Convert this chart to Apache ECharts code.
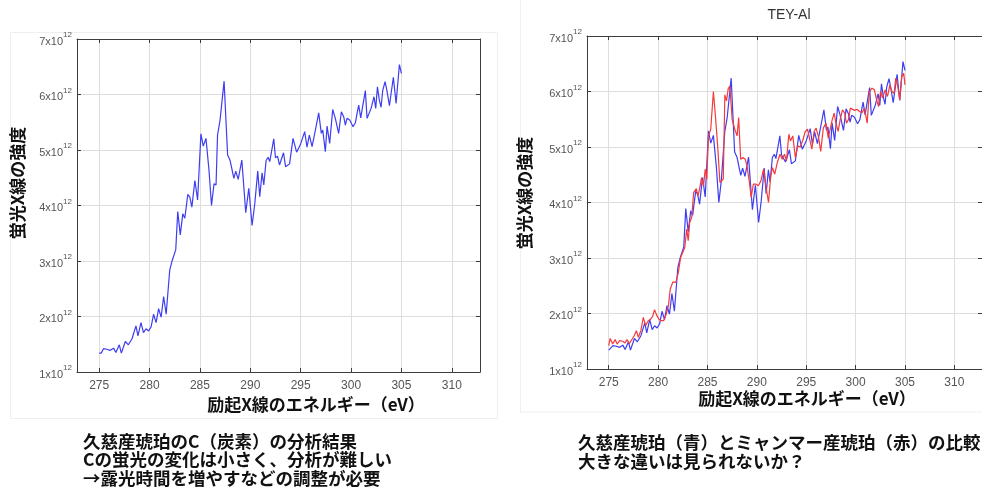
<!DOCTYPE html>
<html><head><meta charset="utf-8">
<script src="https://cdn.jsdelivr.net/npm/echarts@6/dist/echarts.min.js"></script>
<style>html,body{margin:0;padding:0;background:#fff}#c{width:982px;height:499px}</style>
</head><body><div id="c"></div>
<script>
// ---- data (intensity in units of 10^12) ----
const yExponent = 12;
const yTickValues = [1, 2, 3, 4, 5, 6, 7];
const xTickValues = [275, 280, 285, 290, 295, 300, 305, 310];

const kujiEnergy = [275.0,275.2,275.43,275.76,276.1,276.43,276.66,277.0,277.2,277.6,277.9,278.26,278.45,278.65,278.85,279.15,279.4,279.65,279.9,280.15,280.4,280.65,280.9,281.15,281.4,281.65,282.0,282.25,282.6,282.8,283.05,283.3,283.5,283.8,284.0,284.2,284.35,284.5,284.77,285.1,285.33,285.6,285.9,286.15,286.4,286.6,286.75,287.0,287.4,287.75,288.0,288.37,288.56,288.8,288.96,289.16,289.55,289.85,290.18,290.45,290.74,290.94,291.17,291.34,291.57,291.77,291.93,292.33,292.5,292.7,292.9,293.3,293.5,293.9,294.24,294.4,294.6,295.0,295.4,295.63,295.86,296.13,296.46,296.79,297.05,297.19,297.45,297.62,297.88,298.18,298.44,298.77,299.04,299.27,299.44,299.6,299.87,300.03,300.2,300.43,300.66,300.76,300.96,301.13,301.42,301.59,301.75,301.99,302.28,302.45,302.62,302.81,302.98,303.15,303.38,303.58,303.81,304.0,304.2,304.47,304.8,305.0];
const kujiIntensity = [1.34,1.34,1.42,1.41,1.39,1.43,1.35,1.49,1.34,1.55,1.49,1.60,1.58,1.83,1.65,1.89,1.71,1.78,1.74,1.81,2.04,1.89,2.14,1.99,2.36,2.04,2.83,3.01,3.20,3.89,3.47,3.85,3.77,4.20,4.15,3.97,3.95,4.45,4.10,5.29,5.07,5.21,4.64,4.00,4.39,4.37,5.27,5.54,6.24,4.91,4.81,4.49,4.62,4.47,4.46,4.82,3.87,4.31,3.64,4.04,4.62,4.16,4.59,4.37,4.81,4.87,4.79,5.20,4.86,4.89,4.73,4.95,4.70,4.75,5.21,5.23,4.96,5.11,5.33,5.05,5.27,5.06,5.36,5.67,5.30,5.36,4.97,5.43,5.12,5.73,5.57,5.30,5.69,5.60,5.45,5.57,5.54,5.56,5.42,5.49,5.72,5.81,5.58,5.56,6.07,5.57,5.57,5.75,5.96,5.75,6.14,5.90,5.77,6.08,6.23,6.05,5.80,6.05,6.31,5.84,6.54,6.38];

const myanmarEnergy = [275.0,275.15,275.4,275.65,275.85,276.1,276.4,276.65,276.85,277.1,277.3,277.58,277.8,278.0,278.25,278.5,278.74,278.97,279.24,279.45,279.64,279.83,280.07,280.3,280.56,280.83,281.06,281.23,281.5,281.8,282.05,282.28,282.48,282.7,282.9,283.05,283.2,283.4,283.6,283.87,284.04,284.2,284.4,284.6,284.77,284.93,285.1,285.33,285.6,285.83,286.03,286.26,286.43,286.6,286.76,286.93,287.1,287.26,287.5,287.76,288.0,288.16,288.36,288.6,288.82,289.0,289.25,289.42,289.65,289.92,290.15,290.41,290.68,290.91,291.18,291.41,291.58,291.81,292.07,292.34,292.57,292.8,293.0,293.24,293.4,293.64,293.9,294.14,294.4,294.67,294.9,295.13,295.33,295.57,295.8,296.0,296.23,296.47,296.73,297.0,297.23,297.4,297.63,297.83,298.0,298.23,298.47,298.67,298.9,299.07,299.27,299.47,299.67,299.9,300.13,300.4,300.67,300.9,301.17,301.4,301.67,301.9,302.13,302.33,302.53,302.73,303.0,303.23,303.47,303.67,303.9,304.07,304.27,304.47,304.67,304.87,305.0];
const myanmarIntensity = [1.42,1.55,1.45,1.53,1.45,1.51,1.50,1.47,1.53,1.46,1.44,1.60,1.69,1.57,1.69,1.93,1.78,1.86,1.90,1.95,2.07,1.98,1.90,1.87,1.87,1.99,2.16,2.44,2.57,2.56,2.74,3.01,2.99,3.19,3.52,3.31,3.64,3.73,4.18,4.25,4.12,4.24,4.45,4.30,4.60,4.42,5.20,5.32,6.00,5.50,5.02,4.36,4.39,4.42,5.94,5.83,6.05,6.10,5.50,5.32,5.20,5.53,4.78,4.81,4.78,4.66,4.36,4.09,4.33,4.33,4.30,4.39,4.60,4.30,4.00,4.48,4.63,4.51,4.72,4.87,4.78,4.87,4.75,5.23,5.11,5.20,4.81,5.02,5.00,5.13,5.28,5.32,5.31,4.96,5.28,5.34,5.19,4.92,5.34,5.43,5.16,5.19,5.49,5.61,5.44,5.28,5.52,5.67,5.61,5.43,5.49,5.70,5.67,5.66,5.68,5.64,5.62,5.70,5.43,6.00,6.06,6.03,5.85,5.73,6.00,5.88,6.03,5.91,6.12,6.00,5.97,6.24,6.09,5.85,6.27,6.33,6.12];

const yTitle = '蛍光X線の強度';
const xTitle = '励起X線のエネルギー（eV）';
const rightTitle = 'TEY-Al';
const leftCaption = ['久慈産琥珀のC（炭素）の分析結果', 'Cの蛍光の変化は小さく、分析が難しい', '→露光時間を増やすなどの調整が必要'];
const rightCaption = ['久慈産琥珀（青）とミャンマー産琥珀（赤）の比較', '大きな違いは見られないか？'];

// ---- chart ----
const LAT = '"Liberation Sans", Arial, sans-serif';
const JP = '"Noto Sans CJK JP", sans-serif';
const FRAME = '#3c3c3c';
const GRIDC = '#dddddd';
const X_MIN = 272.8, X_MAX = 312.8;

function zip(a, b) { return a.map((v, i) => [v, b[i]]); }

function xAx(gi, pos, main) {
  return {
    type: 'value', gridIndex: gi, position: pos, min: X_MIN, max: X_MAX,
    minInterval: 5, maxInterval: 5,
    axisLine: { show: true, onZero: false, lineStyle: { color: FRAME, width: 1 } },
    axisTick: { show: true, inside: true, length: 4, lineStyle: { color: FRAME } },
    axisLabel: {
      show: main, color: '#555', fontSize: 12, fontFamily: LAT, margin: 8,
      showMinLabel: false, showMaxLabel: false,
      formatter: v => xTickValues.includes(Math.round(v)) && Math.abs(v - Math.round(v)) < 1e-6 ? String(Math.round(v)) : ''
    },
    splitLine: { show: main, lineStyle: { color: GRIDC, width: 1 } }
  };
}
function yAx(gi, pos, main) {
  return {
    type: 'value', gridIndex: gi, position: pos, min: yTickValues[0], max: yTickValues[yTickValues.length - 1], interval: 1,
    axisLine: { show: true, onZero: false, lineStyle: { color: FRAME, width: 1 } },
    axisTick: { show: true, inside: true, length: 4, lineStyle: { color: FRAME } },
    axisLabel: {
      show: main, margin: 5,
      formatter: v => '{m|' + v + 'x10}{e|' + yExponent + '}',
      rich: {
        m: { fontSize: 11, color: '#555', fontFamily: LAT, lineHeight: 16, verticalAlign: 'bottom' },
        e: { fontSize: 8, color: '#555', fontFamily: LAT, lineHeight: 16, verticalAlign: 'top' }
      }
    },
    splitLine: { show: main, lineStyle: { color: GRIDC, width: 1 } }
  };
}

function txt(x, y, text, size, rot) {
  return {
    type: 'text', x: x, y: y, rotation: rot || 0, silent: true,
    style: { text: text, font: 'bold ' + size + 'px ' + JP, fill: '#111', align: 'center', verticalAlign: 'middle' }
  };
}

const chart = echarts.init(document.getElementById('c'), null, { renderer: 'canvas' });
chart.setOption({
  animation: false,
  backgroundColor: '#fff',
  grid: [
    { left: 77, top: 39, width: 403, height: 333 },
    { left: 587, top: 36, width: 403, height: 333 }
  ],
  xAxis: [xAx(0, 'bottom', true), xAx(0, 'top', false), xAx(1, 'bottom', true), xAx(1, 'top', false)],
  yAxis: [yAx(0, 'left', true), yAx(0, 'right', false), yAx(1, 'left', true), yAx(1, 'right', false)],
  series: [
    { type: 'line', xAxisIndex: 0, yAxisIndex: 0, data: zip(kujiEnergy, kujiIntensity), showSymbol: false, symbol: 'none',
      lineStyle: { color: '#3d3df2', width: 1.2 }, itemStyle: { color: '#3d3df2' } },
    { type: 'line', xAxisIndex: 2, yAxisIndex: 2, data: zip(kujiEnergy, kujiIntensity), showSymbol: false, symbol: 'none',
      lineStyle: { color: '#3d3df2', width: 1.2 }, itemStyle: { color: '#3d3df2' } },
    { type: 'line', xAxisIndex: 2, yAxisIndex: 2, data: zip(myanmarEnergy, myanmarIntensity), showSymbol: false, symbol: 'none',
      lineStyle: { color: '#f53a3a', width: 1.2 }, itemStyle: { color: '#f53a3a' } }
  ],
  graphic: [
    { type: 'rect', silent: true, shape: { x: 10.5, y: 32.5, width: 487, height: 386 }, style: { fill: 'none', stroke: '#efefef', lineWidth: 1 } },
    { type: 'rect', silent: true, shape: { x: 520.5, y: -2, width: 470, height: 414 }, style: { fill: 'none', stroke: '#efefef', lineWidth: 1 } },
    txt(18, 183, yTitle, 17, Math.PI / 2),
    txt(316, 405, xTitle, 17),
    txt(525, 193, yTitle, 17, Math.PI / 2),
    txt(807, 399, xTitle, 17),
    { type: 'text', x: 789, y: 15, silent: true, style: { text: rightTitle, font: '14px ' + LAT, fill: '#333', align: 'center', verticalAlign: 'middle' } },
    { type: 'text', x: 83, y: 432, silent: true, style: { text: leftCaption.join('\n'), font: 'bold 17.5px ' + JP, fill: '#111', align: 'left', verticalAlign: 'top', lineHeight: 18.5 } },
    { type: 'text', x: 578, y: 433, silent: true, style: { text: rightCaption.join('\n'), font: 'bold 17.5px ' + JP, fill: '#111', align: 'left', verticalAlign: 'top', lineHeight: 19 } }
  ]
});
</script>
</body></html>
